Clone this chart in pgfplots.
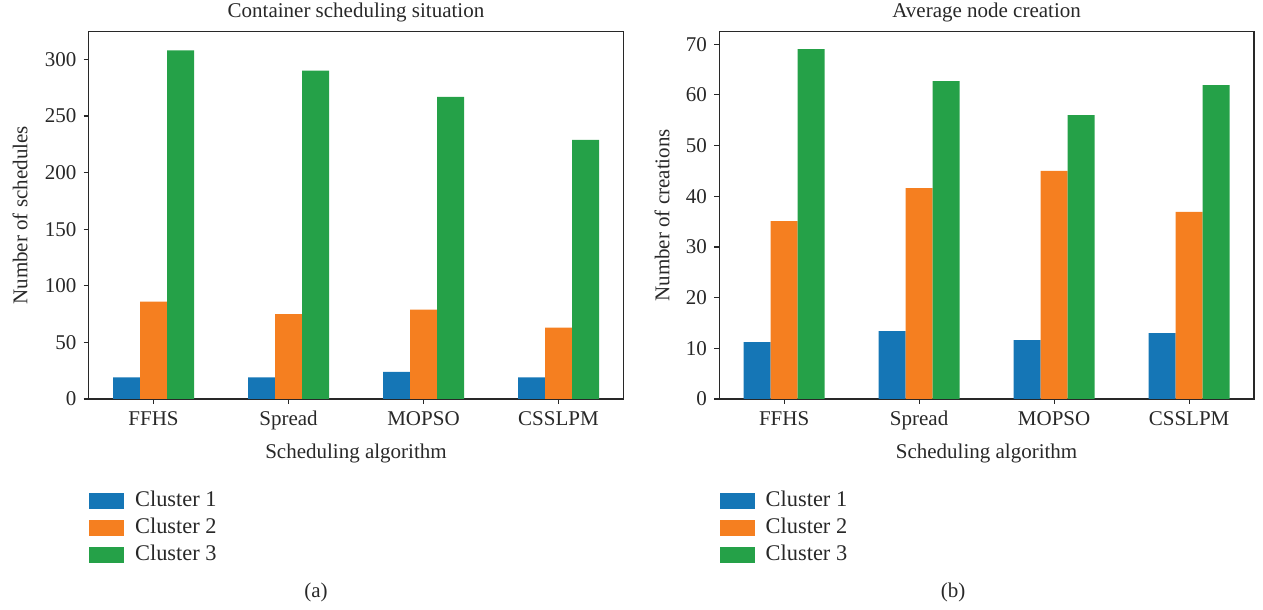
\documentclass[border=0pt]{standalone}
\usepackage{fontspec}
\setmainfont{Liberation Serif}
\usepackage{pgfplots}
\pgfplotsset{compat=1.18}
\definecolor{cA}{RGB}{21,118,182}
\definecolor{cB}{RGB}{245,127,32}
\definecolor{cC}{RGB}{37,161,72}
\definecolor{ax}{RGB}{40,40,40}
\pgfplotsset{
  mystyle/.style={
    scale only axis, width=267.3pt, height=183.65pt,
    xmin=-0.48, xmax=3.48, xtick={0,1,2,3},
    xticklabels={FFHS,Spread,MOPSO,CSSLPM},
    tick align=outside, xtick pos=bottom, ytick pos=left,
    major tick length=2.5pt,
    axis line style={line width=0.6pt, ax},
    tick style={line width=0.6pt, ax},
    ymin=0,
    xlabel={Scheduling algorithm},
    /pgf/number format/assume math mode=true,
    ticklabel style={text=ax},
    label style={text=ax},
    xlabel style={at={(axis description cs:0.5,-0.147)}, anchor=center},
    every axis title shift=0pt,
    title style={at={(axis description cs:0.5,1.051)}, anchor=center, text=ax},
    legend image code/.code={\fill[##1,draw=none] (0pt,-4pt) rectangle (17.5pt,4pt);\path (23pt,0pt);},
    legend style={draw=none, fill=none, inner sep=0pt, at={(0,-0.248)}, anchor=north west,
      font=\fontsize{11.2}{13}\selectfont,
      row sep=3.3pt, nodes={text=ax, inner sep=0pt, text height=8pt, text depth=2.2pt}},
    legend cell align=left,
  },
  b1/.style={ybar, bar width=0.2, bar shift=-0.2, fill=cA, draw=none},
  b2/.style={ybar, bar width=0.2, bar shift=0, fill=cB, draw=none},
  b3/.style={ybar, bar width=0.2, bar shift=0.2, fill=cC, draw=none},
}
\begin{document}
\fontsize{10.5}{12}\selectfont
\begin{tikzpicture}
\path[use as bounding box] (0,0) rectangle (631.5pt,305pt);
\begin{axis}[mystyle, at={(44.35pt,105.5pt)}, anchor=south west,
  ymax=324.5, ytick={0,50,100,150,200,250,300},
  title={Container scheduling situation},
  ylabel={Number of schedules},
  ylabel style={at={(axis description cs:-0.1285,0.5)}, anchor=center}]
\addplot[b1] coordinates {(0,19) (1,19) (2,24) (3,19)};
\addplot[b2] coordinates {(0,86) (1,75) (2,79) (3,63)};
\addplot[b3] coordinates {(0,308) (1,290) (2,267) (3,229)};
\legend{Cluster 1, Cluster 2, Cluster 3}
\end{axis}
\begin{axis}[mystyle, at={(359.65pt,105.5pt)}, anchor=south west,
  ymax=72.45, ytick={0,10,20,30,40,50,60,70},
  title={Average node creation},
  ylabel={Number of creations},
  ylabel style={at={(axis description cs:-0.107,0.5)}, anchor=center}]
\addplot[b1] coordinates {(0,11.2) (1,13.4) (2,11.6) (3,13.0)};
\addplot[b2] coordinates {(0,35.1) (1,41.6) (2,45.0) (3,36.9)};
\addplot[b3] coordinates {(0,69.0) (1,62.7) (2,56.0) (3,61.9)};
\legend{Cluster 1, Cluster 2, Cluster 3}
\end{axis}
\node[text=ax] at (158pt,9pt) {(a)};
\node[text=ax] at (476.5pt,9pt) {(b)};
\end{tikzpicture}
\end{document}
